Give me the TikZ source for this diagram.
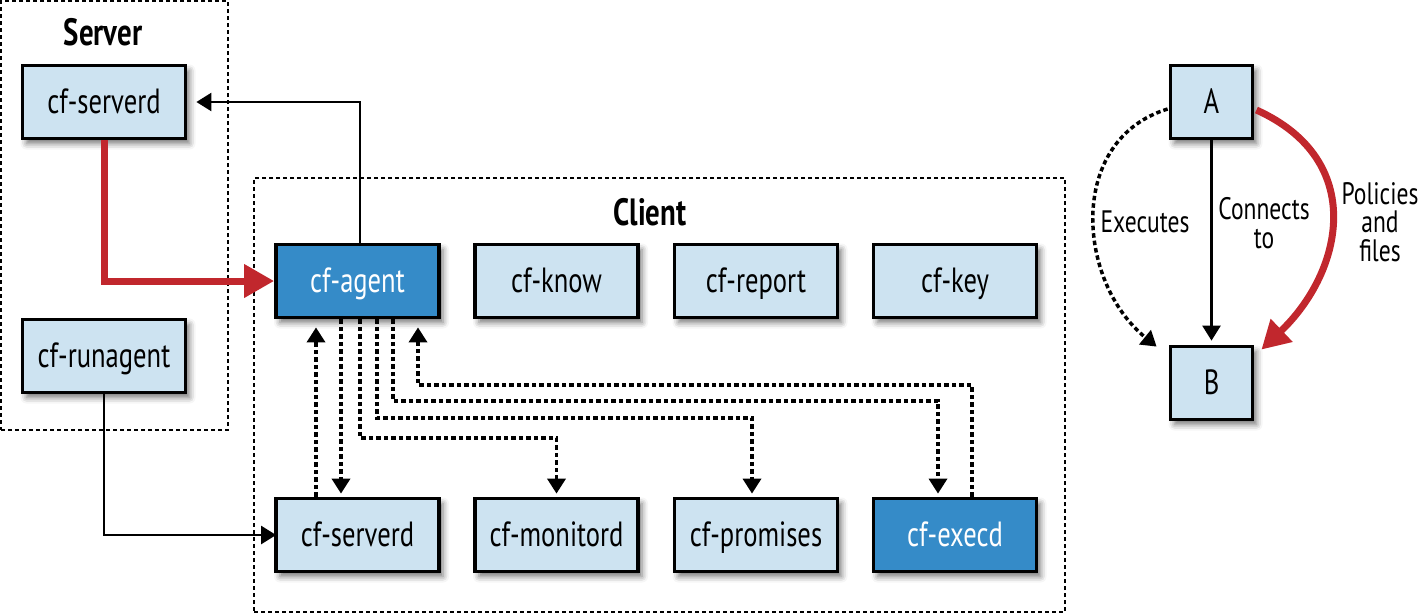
\documentclass[tikz,border=0pt]{standalone}
\usepackage{fontspec}
\setmainfont{PT Sans}[FakeStretch=0.76]
\usetikzlibrary{arrows.meta,calc,shadows.blur}
\definecolor{cflight}{HTML}{CDE3F1}
\definecolor{cfdark}{HTML}{358BC8}
\definecolor{cfred}{HTML}{C1272D}
\begin{document}
\begin{tikzpicture}[x=1pt,y=-1pt,
  box/.style={draw=black, line width=3.8pt, fill=cflight, minimum width=163pt, minimum height=73pt, inner sep=0pt,
    font=\fontsize{35}{40}\selectfont, text height=30pt, text depth=8pt,
    blur shadow={shadow xshift=4pt, shadow yshift=-5pt, shadow blur radius=6pt, shadow opacity=55}},
  hibox/.style={box, fill=cfdark, text=white},
  smallbox/.style={box, minimum width=82pt},
  group/.style={draw=black, line width=1.5pt, dash pattern=on 4pt off 3pt, minimum width=#1, inner sep=0pt},
  title/.style={font=\fontsize{38}{42}\selectfont\bfseries},
  lbl/.style={font=\fontsize{31}{28.5}\selectfont, align=center, inner sep=0pt},
  conn/.style={draw=black, line width=2.5pt, -{Triangle[width=18pt,length=15pt]}},
  dots/.style={conn, line width=3.5pt, dash pattern=on 4.5pt off 3pt},
  redconn/.style={draw=cfred, line width=7pt, -{Triangle[width=32pt,length=30pt]}},
]
\useasboundingbox (0,0) rectangle (1418,614);

% containers
\node[group=227pt, minimum height=429pt] (serverbox) at (114.5,215.5) {};
\node[group=811pt, minimum height=434pt] (clientbox) at (659.5,395) {};
\node[title] (servertitle) at (103,32) {Server};
\node[title] (clienttitle) at (650,212) {Client};

% server nodes
\node[box] (sserverd) at (104,102) {cf-serverd};
\node[box] (runagent) at (104,356) {cf-runagent};

% client nodes
\node[hibox] (agent) at (357.5,281) {cf-agent};
\node[box] (know) at (556.5,281) {cf-know};
\node[box] (report) at (756,281) {cf-report};
\node[box] (key) at (955,281) {cf-key};
\node[box] (cserverd) at (357.5,535) {cf-serverd};
\node[box] (monitord) at (556.5,535) {cf-monitord};
\node[box] (promises) at (756,535) {cf-promises};
\node[hibox] (execd) at (955,535) {cf-execd};

% legend nodes
\node[smallbox] (A) at (1211.5,102) {A};
\node[smallbox] (B) at (1211.5,383) {B};

% connectors
\draw[conn, shorten >=9pt] ([xshift=2.5pt]agent.north) |- (sserverd.east);
\draw[redconn] (sserverd.south) |- (agent.west);
\draw[conn, shorten >=-2pt] (runagent.south) |- (cserverd.west);

\draw[dots, shorten >=8pt] ([xshift=-41.5pt]cserverd.north) -- ([xshift=-41.5pt]agent.south);
\draw[dots, shorten >=3pt] ([xshift=-16.5pt]agent.south) -- ([xshift=-16.5pt]cserverd.north);
\draw[dots, shorten >=3pt] ([xshift=2.5pt]agent.south) -- ++(0,118.75) -| (monitord.north);
\draw[dots, shorten >=3pt] ([xshift=19.5pt]agent.south) -- ++(0,98.75) -| ([xshift=-4pt]promises.north);
\draw[dots, shorten >=3pt] ([xshift=35.5pt]agent.south) -- ++(0,81.75) -| ([xshift=-17pt]execd.north);
\draw[dots, shorten >=8pt] ([xshift=17pt]execd.north) -- ++(0,-111.75) -| ([xshift=60.5pt]agent.south);

% legend connectors
\draw[conn, shorten >=4pt] (A.south) -- (B.north);
\draw[redconn, -{Triangle[width=30pt,length=28pt]}] ($(A.east)+(2,8)$) .. controls +(111,50) and +(82,-78) .. ($(B.north east)+(7,5)$);
\draw[dots] ($(A.west)+(-1,7)$) .. controls +(-101,31) and +(-80,-65) .. ($(B.north west)+(-12,2)$);

\node[lbl] (exlbl) at (1145,222) {Executes};
\node[lbl] (conlbl) at (1264,223) {Connects\\to};
\node[lbl] (pollbl) at (1380,222) {Policies\\and\\files};
\end{tikzpicture}
\end{document}
